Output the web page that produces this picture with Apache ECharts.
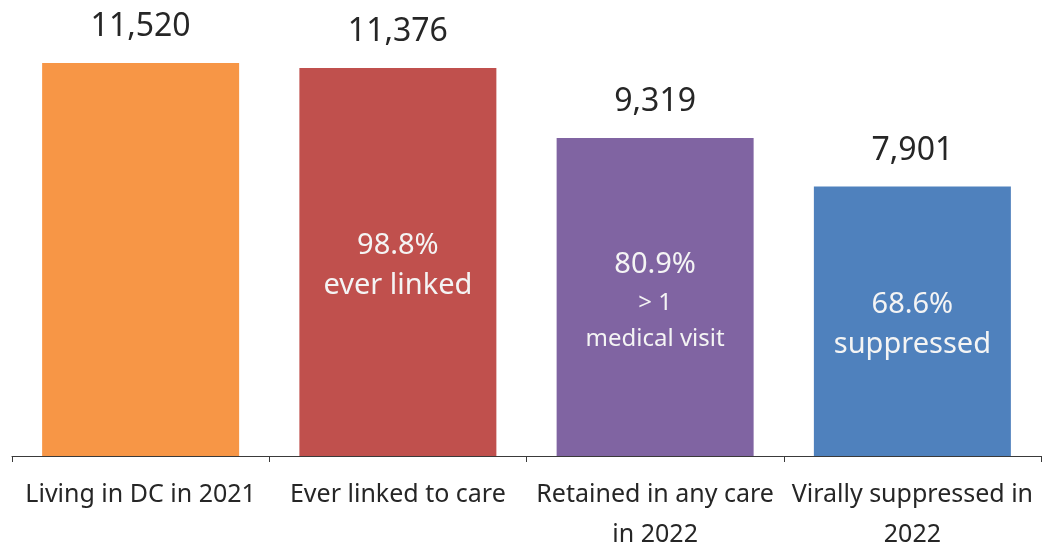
<!DOCTYPE html>
<html>
<head>
<meta charset="utf-8">
<script src="https://cdn.jsdelivr.net/npm/echarts@6/dist/echarts.min.js"></script>
<style>
  html, body { margin: 0; padding: 0; background: #ffffff; }
  #chart { width: 1042px; height: 546px; }
</style>
</head>
<body>
<div id="chart"></div>
<script>
// HIV care continuum, Washington DC
const categories = [
  'Living in DC in 2021',
  'Ever linked to care',
  'Retained in any care\nin 2022',
  'Virally suppressed in\n2022'
];
const counts = [11520, 11376, 9319, 7901];
const captions = ['', 'ever linked', '> 1\nmedical visit', 'suppressed'];
const barColors = ['#F79646', '#C0504D', '#8064A2', '#4F81BD'];

const FONT = '"Noto Sans", "Open Sans", sans-serif';
const TEXT_DARK = '#262626';

// Share of people living with HIV reached at each stage
function pctOfBase(i) {
  return (counts[i] / counts[0] * 100).toFixed(1) + '%';
}

const chart = echarts.init(document.getElementById('chart'));

chart.setOption({
  animation: false,
  backgroundColor: '#ffffff',
  grid: { left: 12, right: 1, top: 63, bottom: 90, outerBoundsMode: 'none', containLabel: false },
  xAxis: {
    type: 'category',
    data: categories,
    axisLine: { lineStyle: { color: '#3a3a3a', width: 1 } },
    axisTick: { show: true, length: 6, lineStyle: { color: '#3a3a3a' } },
    axisLabel: {
      interval: 0,
      margin: 19,
      color: TEXT_DARK,
      fontFamily: FONT,
      fontSize: 25,
      lineHeight: 40
    }
  },
  yAxis: {
    type: 'value',
    min: 0,
    max: 11520,
    show: false,
    splitLine: { show: false }
  },
  series: [
    {
      type: 'bar',
      barWidth: 197,
      data: counts.map((v, i) => ({
        value: v,
        itemStyle: { color: barColors[i] },
        label: {
          show: i > 0,
          position: 'inside',
          offset: [0, 4],
          formatter: () => {
            const lines = captions[i].split('\n');
            if (lines.length > 1) {
              return '{pct|' + pctOfBase(i) + '}\n' +
                lines.map(s => '{small|' + s + '}').join('\n');
            }
            return '{pct|' + pctOfBase(i) + '}\n{cap|' + captions[i] + '}';
          },
          rich: {
            pct: { color: '#f4f4f4', fontFamily: FONT, fontSize: 29, lineHeight: 40 },
            cap: { color: '#f4f4f4', fontFamily: FONT, fontSize: 29, lineHeight: 40 },
            small: { color: '#f4f4f4', fontFamily: FONT, fontSize: 24, lineHeight: 36 }
          }
        }
      }))
    },
    {
      // transparent overlay carrying the count labels above each bar
      type: 'bar',
      barWidth: 197,
      barGap: '-100%',
      silent: true,
      itemStyle: { color: 'rgba(0,0,0,0)' },
      data: counts,
      label: {
        show: true,
        position: 'top',
        distance: 20,
        color: TEXT_DARK,
        fontFamily: FONT,
        fontSize: 32,
        formatter: p => p.value.toLocaleString('en-US')
      }
    }
  ]
});
</script>
</body>
</html>
